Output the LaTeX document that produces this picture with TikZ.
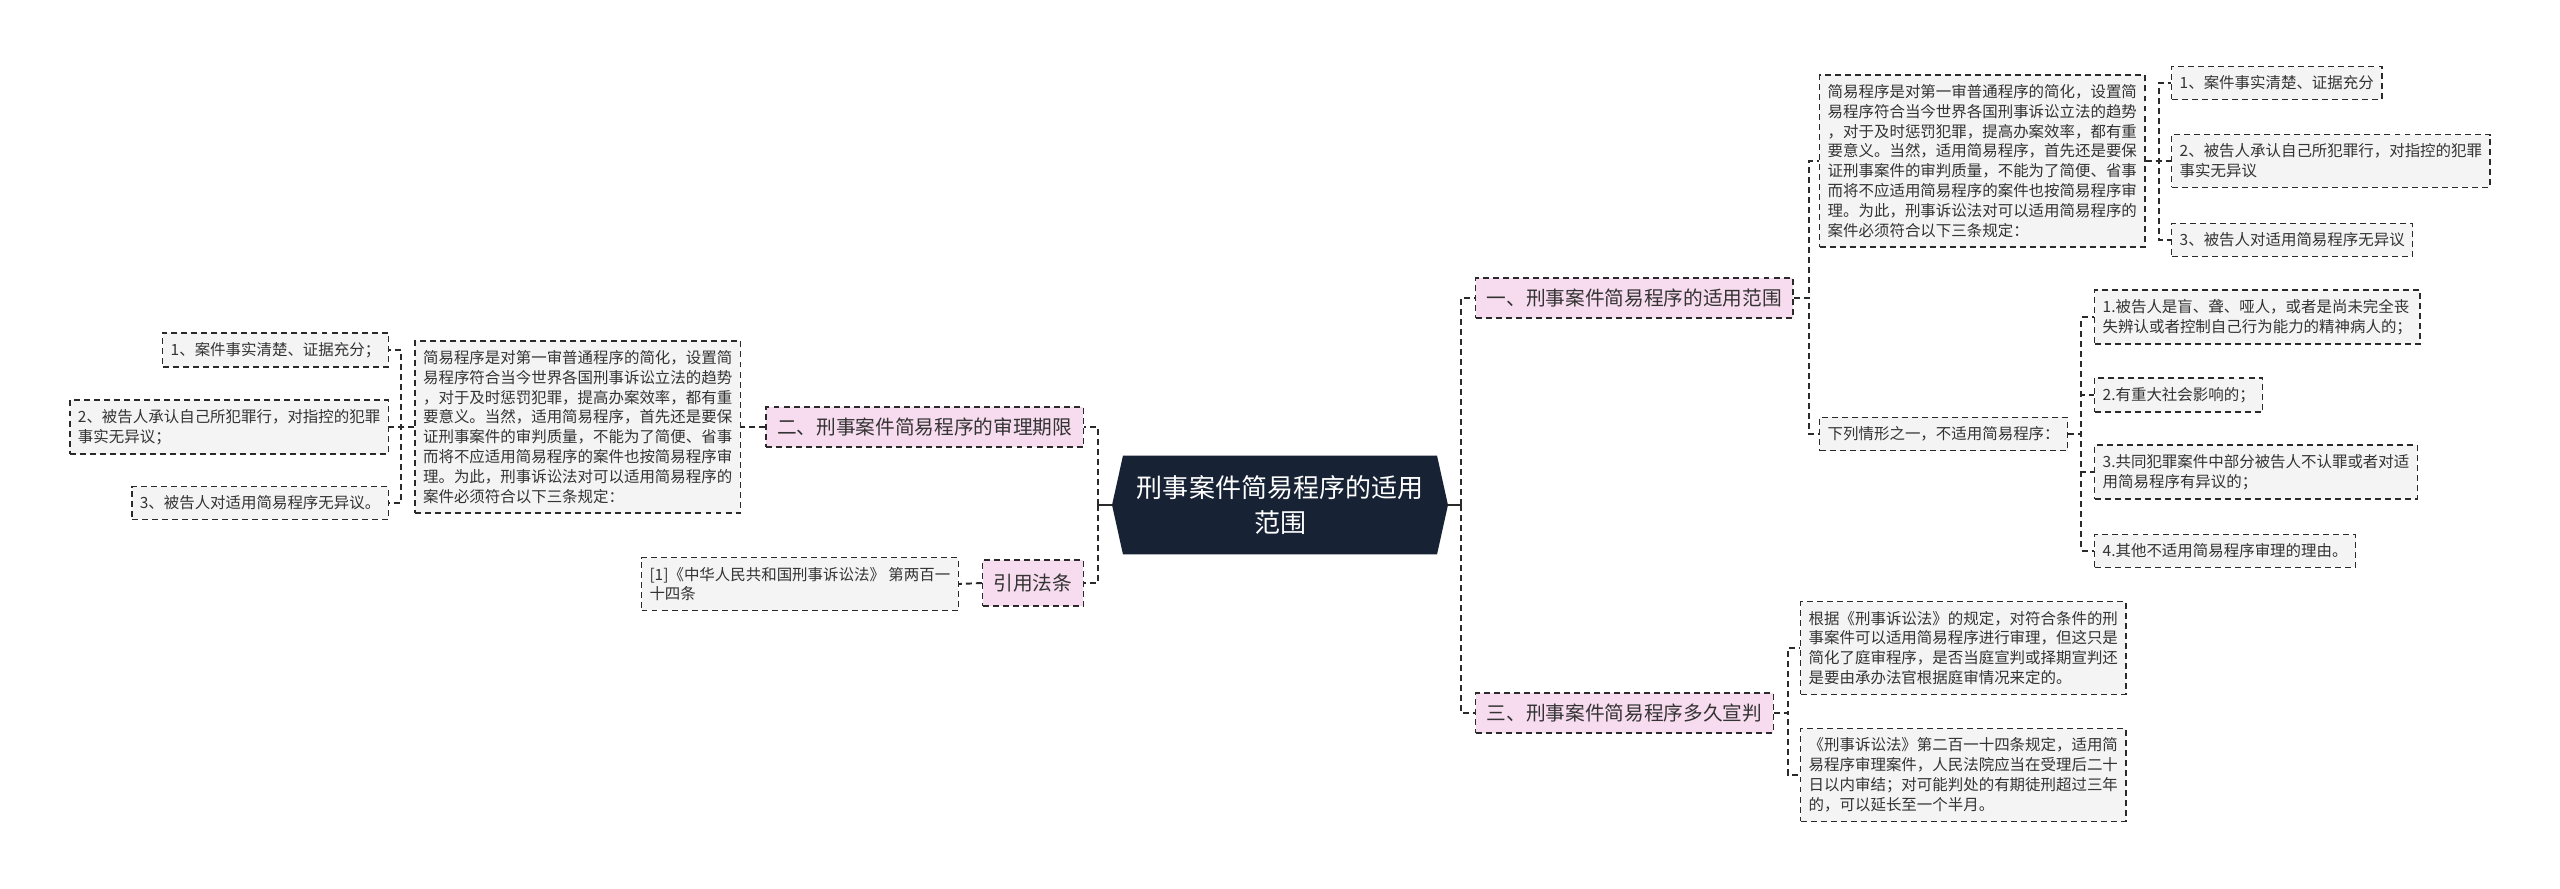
\documentclass[tikz,border=0pt]{standalone}
\usepackage{fontspec}
\newfontfamily\cjk{Noto Sans CJK SC}
\usetikzlibrary{shapes.symbols, positioning}
\definecolor{rootblue}{HTML}{172335}
\definecolor{topicpink}{HTML}{F7DCEF}
\definecolor{leafgray}{HTML}{F4F4F4}
\definecolor{textgray}{HTML}{333333}
\definecolor{linegray}{HTML}{2A2A2A}

\begin{document}
\begin{tikzpicture}[
    x=0.02cm, y=-0.02cm,
    rootnode/.style={signal, signal to=west and east, signal pointer angle=155, fill=rootblue, text=white, minimum width=6.72cm, minimum height=1.98cm, inner sep=0pt, align=center, font=\cjk\fontsize{14.8}{19.5}\selectfont},
    topic/.style={rectangle, draw=linegray, line width=0.8pt, dash pattern=on 3.4pt off 2.3pt, fill=topicpink, text=textgray, minimum height=0.8cm, inner xsep=0.22cm, font=\cjk\fontsize{11.2}{14}\selectfont},
    leaf/.style={rectangle, draw=linegray, line width=0.8pt, dash pattern=on 3.4pt off 2.3pt, fill=leafgray, text=textgray, inner xsep=0.16cm, inner ysep=0.185cm, align=left, font=\cjk\fontsize{8.8}{11.3}\selectfont},
    link/.style={draw=linegray, line width=1.1pt, dash pattern=on 3.4pt off 2.3pt},
    stub/.style={draw=linegray, line width=1.1pt}
]
\fill[white] (0,0) rectangle (2560,889);
\useasboundingbox (0,0) rectangle (2560,889);

\node[rootnode] (root) at (1280,505) {刑事案件简易程序的适用\\范围};

\node[topic, anchor=west] (scope) at (1475,298) {一、刑事案件简易程序的适用范围};
\node[topic, anchor=west] (verdict) at (1475,713) {三、刑事案件简易程序多久宣判};
\node[topic, anchor=east] (term) at (1084,427) {二、刑事案件简易程序的审理期限};
\node[topic, anchor=east, minimum height=0.92cm] (law) at (1084,583) {引用法条};

\node[leaf, anchor=west] (scopeintro) at (1819,161) {简易程序是对第一审普通程序的简化，设置简\\易程序符合当今世界各国刑事诉讼立法的趋势\\，对于及时惩罚犯罪，提高办案效率，都有重\\要意义。当然，适用简易程序，首先还是要保\\证刑事案件的审判质量，不能为了简便、省事\\而将不应适用简易程序的案件也按简易程序审\\理。为此，刑事诉讼法对可以适用简易程序的\\案件必须符合以下三条规定：};
\node[leaf, anchor=west] (cond1) at (2171,83) {1、案件事实清楚、证据充分};
\node[leaf, anchor=west] (cond2) at (2171,161) {2、被告人承认自己所犯罪行，对指控的犯罪\\事实无异议};
\node[leaf, anchor=west] (cond3) at (2171,240) {3、被告人对适用简易程序无异议};
\node[leaf, anchor=west] (excl) at (1819,434) {下列情形之一，不适用简易程序：};
\node[leaf, anchor=west] (excl1) at (2094,317) {1.被告人是盲、聋、哑人，或者是尚未完全丧\\失辨认或者控制自己行为能力的精神病人的；};
\node[leaf, anchor=west] (excl2) at (2094,395) {2.有重大社会影响的；};
\node[leaf, anchor=west] (excl3) at (2094,472) {3.共同犯罪案件中部分被告人不认罪或者对适\\用简易程序有异议的；};
\node[leaf, anchor=west] (excl4) at (2094,551) {4.其他不适用简易程序审理的理由。};
\node[leaf, anchor=west] (verdict1) at (1800,648) {根据《刑事诉讼法》的规定，对符合条件的刑\\事案件可以适用简易程序进行审理，但这只是\\简化了庭审程序，是否当庭宣判或择期宣判还\\是要由承办法官根据庭审情况来定的。};
\node[leaf, anchor=west] (verdict2) at (1800,775) {《刑事诉讼法》第二百一十四条规定，适用简\\易程序审理案件，人民法院应当在受理后二十\\日以内审结；对可能判处的有期徒刑超过三年\\的，可以延长至一个半月。};

\node[leaf, anchor=east] (termintro) at (741,427) {简易程序是对第一审普通程序的简化，设置简\\易程序符合当今世界各国刑事诉讼立法的趋势\\，对于及时惩罚犯罪，提高办案效率，都有重\\要意义。当然，适用简易程序，首先还是要保\\证刑事案件的审判质量，不能为了简便、省事\\而将不应适用简易程序的案件也按简易程序审\\理。为此，刑事诉讼法对可以适用简易程序的\\案件必须符合以下三条规定：};
\node[leaf, anchor=east] (term1) at (389,350) {1、案件事实清楚、证据充分；};
\node[leaf, anchor=east] (term2) at (389,427) {2、被告人承认自己所犯罪行，对指控的犯罪\\事实无异议；};
\node[leaf, anchor=east] (term3) at (389,503) {3、被告人对适用简易程序无异议。};
\node[leaf, anchor=east] (lawref) at (959,584) {[1]《中华人民共和国刑事诉讼法》 第两百一\\十四条};

\coordinate (rjoint) at (1461,505);
\coordinate (ljoint) at (1098,505);
\draw[stub] (root.east) -- (rjoint);
\draw[stub] (root.west) -- (ljoint);
\draw[link] (rjoint) |- (scope.west);
\draw[link] (rjoint) |- (verdict.west);
\draw[link] (ljoint) |- (term.east);
\draw[link] (ljoint) |- (law.east);
\draw[link] (scope.east) -- ++(15,0) |- (scopeintro.west);
\draw[link] (scope.east) -- ++(15,0) |- (excl.west);
\foreach \c in {cond1,cond2,cond3}
    \draw[link] (scopeintro.east) -- ++(13,0) |- (\c.west);
\foreach \c in {excl1,excl2,excl3,excl4}
    \draw[link] (excl.east) -- ++(13,0) |- (\c.west);
\foreach \c in {verdict1,verdict2}
    \draw[link] (verdict.east) -- ++(14,0) |- (\c.west);
\draw[link] (term.west) -- (termintro.east);
\foreach \c in {term1,term2,term3}
    \draw[link] (termintro.west) -- ++(-13,0) |- (\c.east);
\draw[link] (law.west) -- (lawref.east);

\end{tikzpicture}
\end{document}
